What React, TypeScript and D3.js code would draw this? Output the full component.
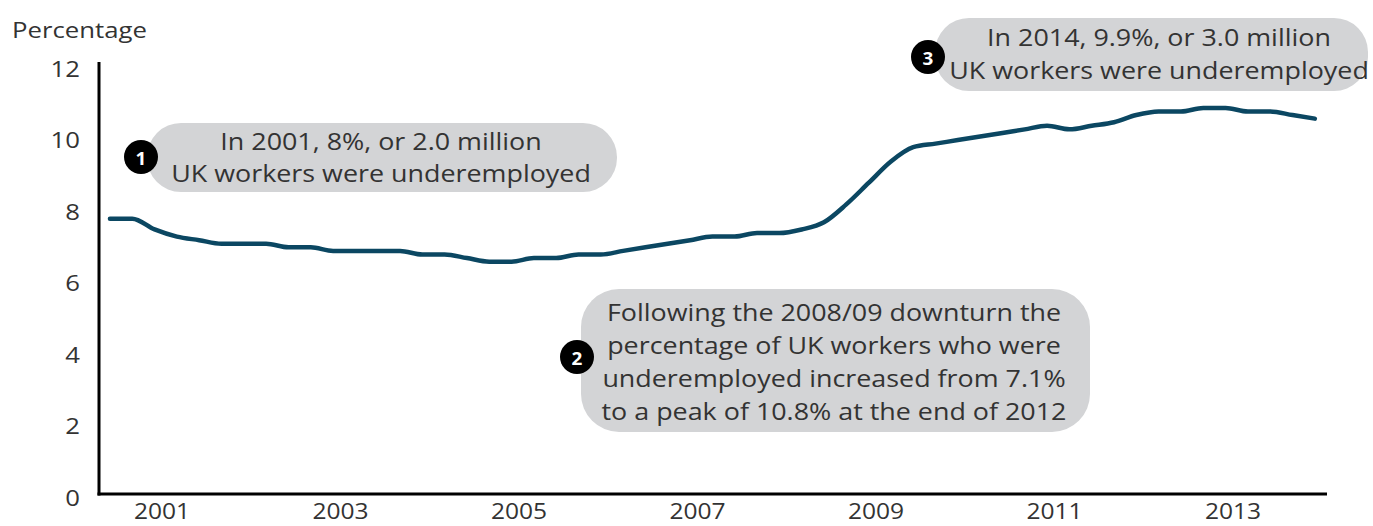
import React from "react";
import * as d3 from "d3";

// Quarterly underemployment rate (%), quarters plotted at the final month of each quarter
const quarters: string[] = [
  "2000 Q2", "2000 Q3", "2000 Q4",
  "2001 Q1", "2001 Q2", "2001 Q3", "2001 Q4",
  "2002 Q1", "2002 Q2", "2002 Q3", "2002 Q4",
  "2003 Q1", "2003 Q2", "2003 Q3", "2003 Q4",
  "2004 Q1", "2004 Q2", "2004 Q3", "2004 Q4",
  "2005 Q1", "2005 Q2", "2005 Q3", "2005 Q4",
  "2006 Q1", "2006 Q2", "2006 Q3", "2006 Q4",
  "2007 Q1", "2007 Q2", "2007 Q3", "2007 Q4",
  "2008 Q1", "2008 Q2", "2008 Q3", "2008 Q4",
  "2009 Q1", "2009 Q2", "2009 Q3", "2009 Q4",
  "2010 Q1", "2010 Q2", "2010 Q3", "2010 Q4",
  "2011 Q1", "2011 Q2", "2011 Q3", "2011 Q4",
  "2012 Q1", "2012 Q2", "2012 Q3", "2012 Q4",
  "2013 Q1", "2013 Q2", "2013 Q3", "2013 Q4",
];

const rates: number[] = [
  7.7, 7.7, 7.4,
  7.2, 7.1, 7.0, 7.0,
  7.0, 6.9, 6.9, 6.8,
  6.8, 6.8, 6.8, 6.7,
  6.7, 6.6, 6.5, 6.5,
  6.6, 6.6, 6.7, 6.7,
  6.8, 6.9, 7.0, 7.1,
  7.2, 7.2, 7.3, 7.3,
  7.4, 7.6, 8.1, 8.7,
  9.3, 9.7, 9.8, 9.9,
  10.0, 10.1, 10.2, 10.3,
  10.2, 10.3, 10.4, 10.6,
  10.7, 10.7, 10.8, 10.8,
  10.7, 10.7, 10.6, 10.5,
];

const yTicks: number[] = [0, 2, 4, 6, 8, 10, 12];
const xTickYears: number[] = [2001, 2003, 2005, 2007, 2009, 2011, 2013];
const yAxisTitle = "Percentage";

const notes = [
  { n: "1", lines: ["In 2001, 8%, or 2.0 million", "UK workers were underemployed"] },
  {
    n: "2",
    lines: [
      "Following the 2008/09 downturn the",
      "percentage of UK workers who were",
      "underemployed increased from 7.1%",
      "to a peak of 10.8% at the end of 2012",
    ],
  },
  { n: "3", lines: ["In 2014, 9.9%, or 3.0 million", "UK workers were underemployed"] },
];

const W = 1373;
const H = 526;
const FONT = "'Open Sans', 'Noto Sans', sans-serif";
const LINE_COLOR = "#0b4762";
const BUBBLE = "#d3d4d6";
const TEXT = "#333333";
const AXIS_SX = 1.17;
const NOTE_SX = 1.12;

function quarterToYear(q: string): number {
  const [y, qq] = q.split(" Q");
  return +y + (3 * +qq - 1) / 12;
}

function SText(props: {
  x: number;
  y: number;
  sx: number;
  size: number;
  anchor: "start" | "middle" | "end";
  fill?: string;
  weight?: string;
  children: React.ReactNode;
}) {
  return (
    <text
      transform={`translate(${props.x},${props.y}) scale(${props.sx},1)`}
      fontSize={props.size}
      fill={props.fill || TEXT}
      fontWeight={props.weight || "normal"}
      textAnchor={props.anchor}
      dominantBaseline="central"
    >
      {props.children}
    </text>
  );
}

export default function App() {
  const left = 99;
  const right = 1327;
  const y0 = 494;
  const y12 = 65;

  const x = d3.scaleLinear().domain([2000.294, 2014.053]).range([left, right]);
  const y = d3.scaleLinear().domain([0, 12]).range([y0, y12]);

  const data = quarters.map((q, i) => ({ t: quarterToYear(q), v: rates[i] }));
  const line = d3
    .line<{ t: number; v: number }>()
    .x((d) => x(d.t))
    .y((d) => y(d.v))
    .curve(d3.curveMonotoneX);

  const bubbles = [
    { box: [147, 123, 617, 192], r: 34, circle: [141, 157], lineY: [141, 173], cx: 381 },
    { box: [581, 289, 1090, 432], r: 38, circle: [577, 357], lineY: [312, 345, 378, 411], cx: 834 },
    { box: [935, 18, 1368, 91], r: 34, circle: [928, 57], lineY: [37, 70], cx: 1159 },
  ];

  return (
    <svg
      width={W}
      height={H}
      style={{ position: "absolute", left: 0, top: 0, background: "#fff" }}
      fontFamily={FONT}
    >
      <SText x={12} y={29} sx={AXIS_SX} size={22} anchor="start">
        {yAxisTitle}
      </SText>

      {yTicks.map((t) => (
        <SText key={t} x={80} y={y(t) + 3} sx={AXIS_SX} size={22} anchor="end">
          {t}
        </SText>
      ))}

      {xTickYears.map((yr) => (
        <SText key={yr} x={x(yr)} y={511} sx={AXIS_SX} size={21} anchor="middle">
          {yr}
        </SText>
      ))}

      <line x1={left} x2={left} y1={62} y2={y0 + 1.5} stroke="#000" strokeWidth={3} />
      <line x1={left - 1.5} x2={right} y1={y(0)} y2={y(0)} stroke="#000" strokeWidth={3} />

      <path
        d={line(data) || ""}
        fill="none"
        stroke={LINE_COLOR}
        strokeWidth={4.5}
        strokeLinejoin="round"
        strokeLinecap="round"
      />

      {bubbles.map((b, i) => {
        const [x1, y1, x2, y2] = b.box;
        return (
          <g key={i}>
            <rect x={x1} y={y1} width={x2 - x1} height={y2 - y1} rx={b.r} ry={b.r} fill={BUBBLE} />
            {notes[i].lines.map((ln, j) => (
              <SText key={j} x={b.cx} y={b.lineY[j]} sx={NOTE_SX} size={24} anchor="middle">
                {ln}
              </SText>
            ))}
            <circle cx={b.circle[0]} cy={b.circle[1]} r={17} fill="#000" />
            <SText
              x={b.circle[0]}
              y={b.circle[1] + 1}
              sx={1.05}
              size={18}
              weight="bold"
              fill="#fff"
              anchor="middle"
            >
              {notes[i].n}
            </SText>
          </g>
        );
      })}
    </svg>
  );
}
